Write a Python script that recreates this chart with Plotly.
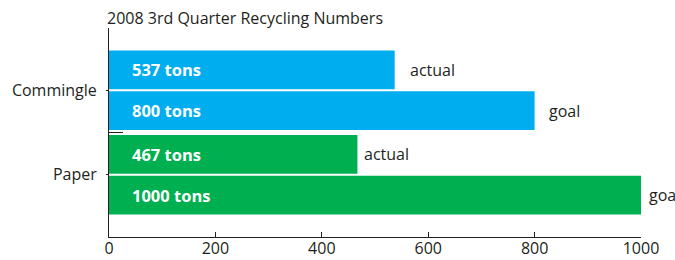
import plotly.graph_objects as go

categories = ["Commingle", "Paper"]
actual = [537, 467]
goal = [800, 1000]
series_names = ["actual", "goal"]
title = "2008 3rd Quarter Recycling Numbers"
x_ticks = [0, 200, 400, 600, 800, 1000]

colors = {"Commingle": "#00AEEF", "Paper": "#00AF4F"}
outside_gap = {"Commingle": [15, 14], "Paper": [7, 8]}
FONT = "Open Sans"
TXT = "#231F20"

fig = go.Figure()
bar_colors = [colors[c] for c in categories]
for name, vals in zip(series_names, [actual, goal]):
    fig.add_trace(go.Bar(
        y=categories, x=vals, name=name, orientation="h",
        marker=dict(color=bar_colors, line=dict(width=0)),
        showlegend=False, hoverinfo="skip",
    ))

px_per_cat = 84.5
slot = 0.48
annotations = []
for ci, cat in enumerate(categories):
    for si, (name, vals) in enumerate(zip(series_names, [actual, goal])):
        off = (-0.5 + si) * slot  # in category units, positive = down on screen
        ysh = -off * px_per_cat
        v = vals[ci]
        annotations.append(dict(
            x=0, y=cat, xref="x", yref="y", xanchor="left", yanchor="middle",
            xshift=21, yshift=ysh, showarrow=False,
            text=f"<b>{v} tons</b>", font=dict(family=FONT, size=16.5, color="white")))
        annotations.append(dict(
            x=v, y=cat, xref="x", yref="y", xanchor="left", yanchor="middle",
            xshift=outside_gap[cat][si] - 2, yshift=ysh, showarrow=False,
            text=name, font=dict(family=FONT, size=16, color=TXT)))

annotations.append(dict(
    x=0, y=1.048, xref="paper", yref="paper", xanchor="left", yanchor="middle",
    xshift=-4, showarrow=False, text=title,
    font=dict(family=FONT, size=16, color=TXT)))

fig.update_layout(
    width=675, height=260,
    margin=dict(l=109, r=34, t=28, b=23),
    paper_bgcolor="white", plot_bgcolor="white",
    barmode="group", bargap=0.04, bargroupgap=0.045,
    annotations=annotations,
    shapes=[dict(type="line", xref="paper", yref="y", x0=0, x1=14 / 532,
                 y0=0.5, y1=0.5, line=dict(color=TXT, width=1))],
    xaxis=dict(range=[0, 1000], tickvals=x_ticks, ticks="inside", ticklen=5,
               tickcolor=TXT, showline=True, linecolor=TXT, linewidth=1,
               showgrid=False, zeroline=False, automargin=False,
               ticklabelstandoff=-3,
               tickfont=dict(family=FONT, size=16, color=TXT)),
    yaxis=dict(categoryorder="array", categoryarray=categories,
               range=[1.736, -0.736], ticks="outside", ticklen=2, tickcolor=TXT,
               showline=True, linecolor=TXT,
               linewidth=1, showgrid=False, zeroline=False, ticklabelstandoff=6,
               automargin=False,
               tickfont=dict(family=FONT, size=16, color=TXT)),
)

fig.write_html("out.html", config={"displayModeBar": False},
               post_script="document.body.style.margin='0';")
